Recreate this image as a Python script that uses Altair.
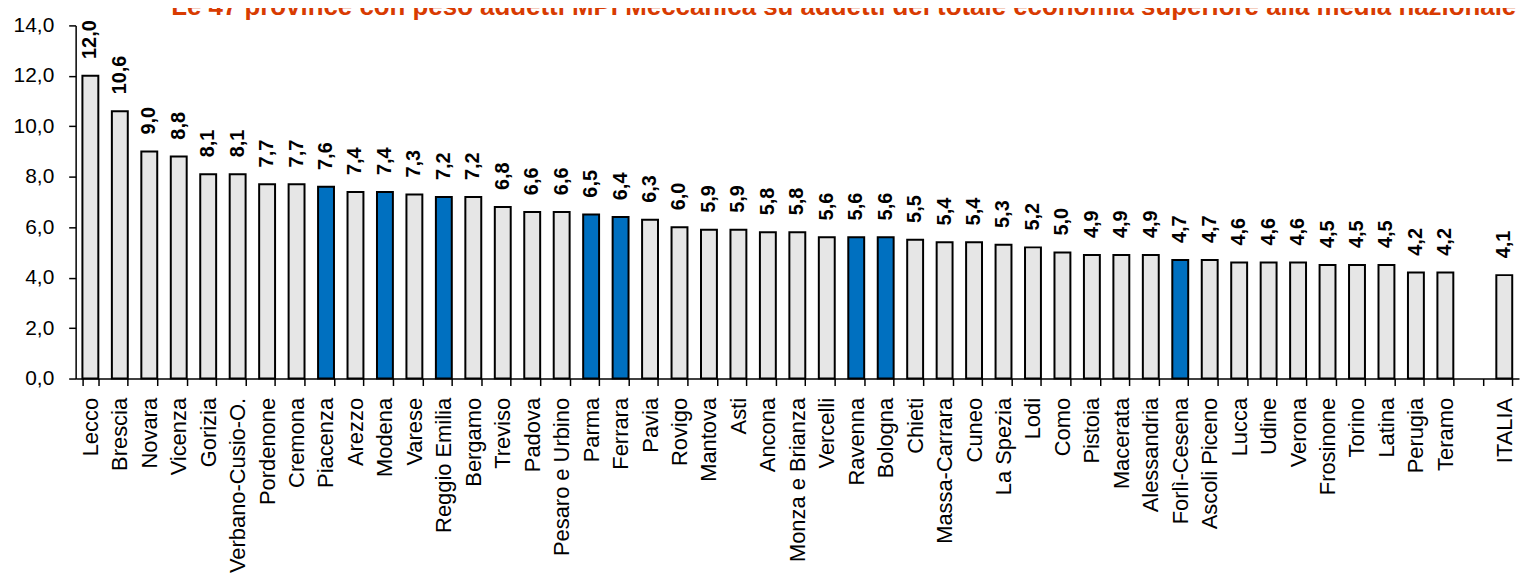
import altair as alt
import pandas as pd

provinces = ["Lecco", "Brescia", "Novara", "Vicenza", "Gorizia", "Verbano-Cusio-O.", "Pordenone",
             "Cremona", "Piacenza", "Arezzo", "Modena", "Varese", "Reggio Emilia", "Bergamo",
             "Treviso", "Padova", "Pesaro e Urbino", "Parma", "Ferrara", "Pavia", "Rovigo",
             "Mantova", "Asti", "Ancona", "Monza e Brianza", "Vercelli", "Ravenna", "Bologna",
             "Chieti", "Massa-Carrara", "Cuneo", "La Spezia", "Lodi", "Como", "Pistoia",
             "Macerata", "Alessandria", "Forlì-Cesena", "Ascoli Piceno", "Lucca", "Udine",
             "Verona", "Frosinone", "Torino", "Latina", "Perugia", "Teramo"]
values = [12.0, 10.6, 9.0, 8.8, 8.1, 8.1, 7.7, 7.7, 7.6, 7.4, 7.4, 7.3, 7.2, 7.2, 6.8, 6.6, 6.6,
          6.5, 6.4, 6.3, 6.0, 5.9, 5.9, 5.8, 5.8, 5.6, 5.6, 5.6, 5.5, 5.4, 5.4, 5.3, 5.2, 5.0,
          4.9, 4.9, 4.9, 4.7, 4.7, 4.6, 4.6, 4.6, 4.5, 4.5, 4.5, 4.2, 4.2]
highlighted = ["Piacenza", "Modena", "Reggio Emilia", "Parma", "Ferrara", "Ravenna", "Bologna",
               "Forlì-Cesena"]
italia_label = "ITALIA"
italia_value = 4.1
title_text = ("Le 47 province con peso addetti MPI Meccanica su addetti del totale economia "
              "superiore alla media nazionale")

cats = provinces + [italia_label]
vals = values + [italia_value]
domain = provinces + [" ", italia_label]

df = pd.DataFrame({
    "prov": cats,
    "val": vals,
    "lab": [f"{v:.1f}".replace(".", ",") for v in vals],
    "grp": ["ER" if p in highlighted else "other" for p in cats],
})

FONT = "Liberation Sans"

x_enc = alt.X(
    "prov:N",
    sort=domain,
    scale=alt.Scale(domain=domain, paddingInner=0.46, paddingOuter=0.23),
    axis=alt.Axis(title=None, labelAngle=-90, labelFontSize=22, labelFont=FONT,
                  labelColor="black", labelPadding=12, tickBand="extent",
                  labelBaseline="middle", labelAlign="right", labelLimit=400),
)
y_enc = alt.Y(
    "val:Q",
    scale=alt.Scale(domain=[0, 14], nice=False),
    axis=alt.Axis(title=None, values=[0, 2, 4, 6, 8, 10, 12, 14],
                  labelExpr="replace(format(datum.value, '.1f'), '.', ',')",
                  labelFontSize=21, labelFont=FONT, labelColor="black", labelPadding=15,
                  grid=False),
)

bars = alt.Chart(df).mark_bar(stroke="black", strokeWidth=2).encode(
    x=x_enc,
    y=y_enc,
    color=alt.Color("grp:N", scale=alt.Scale(domain=["ER", "other"],
                                             range=["#0070C0", "#E6E6E6"]), legend=None),
)

labels = alt.Chart(df).mark_text(angle=270, align="left", baseline="middle", dx=17,
                                 fontSize=20, fontWeight="bold", font=FONT,
                                 color="black").encode(
    x=alt.X("prov:N", sort=domain),
    y="val:Q",
    text="lab:N",
)

title = alt.Chart(pd.DataFrame({"t": [title_text]})).mark_text(
    align="left", baseline="alphabetic", fontSize=26, fontWeight="bold", font=FONT,
    color="#D83B01",
).encode(x=alt.value(96), y=alt.value(-10), text="t:N")

chart = alt.layer(bars, labels, title).properties(
    width=1451, height=355,
    autosize=alt.AutoSizeParams(type="none"),
    padding={"left": 68, "top": 16, "right": 1, "bottom": 196},
).configure_view(stroke=None).configure_axis(
    domainColor="black", domainWidth=1.5, tickColor="black", tickWidth=1.5, tickSize=7,
)

chart.save("out.html", embed_options={"renderer": "svg", "actions": False})
